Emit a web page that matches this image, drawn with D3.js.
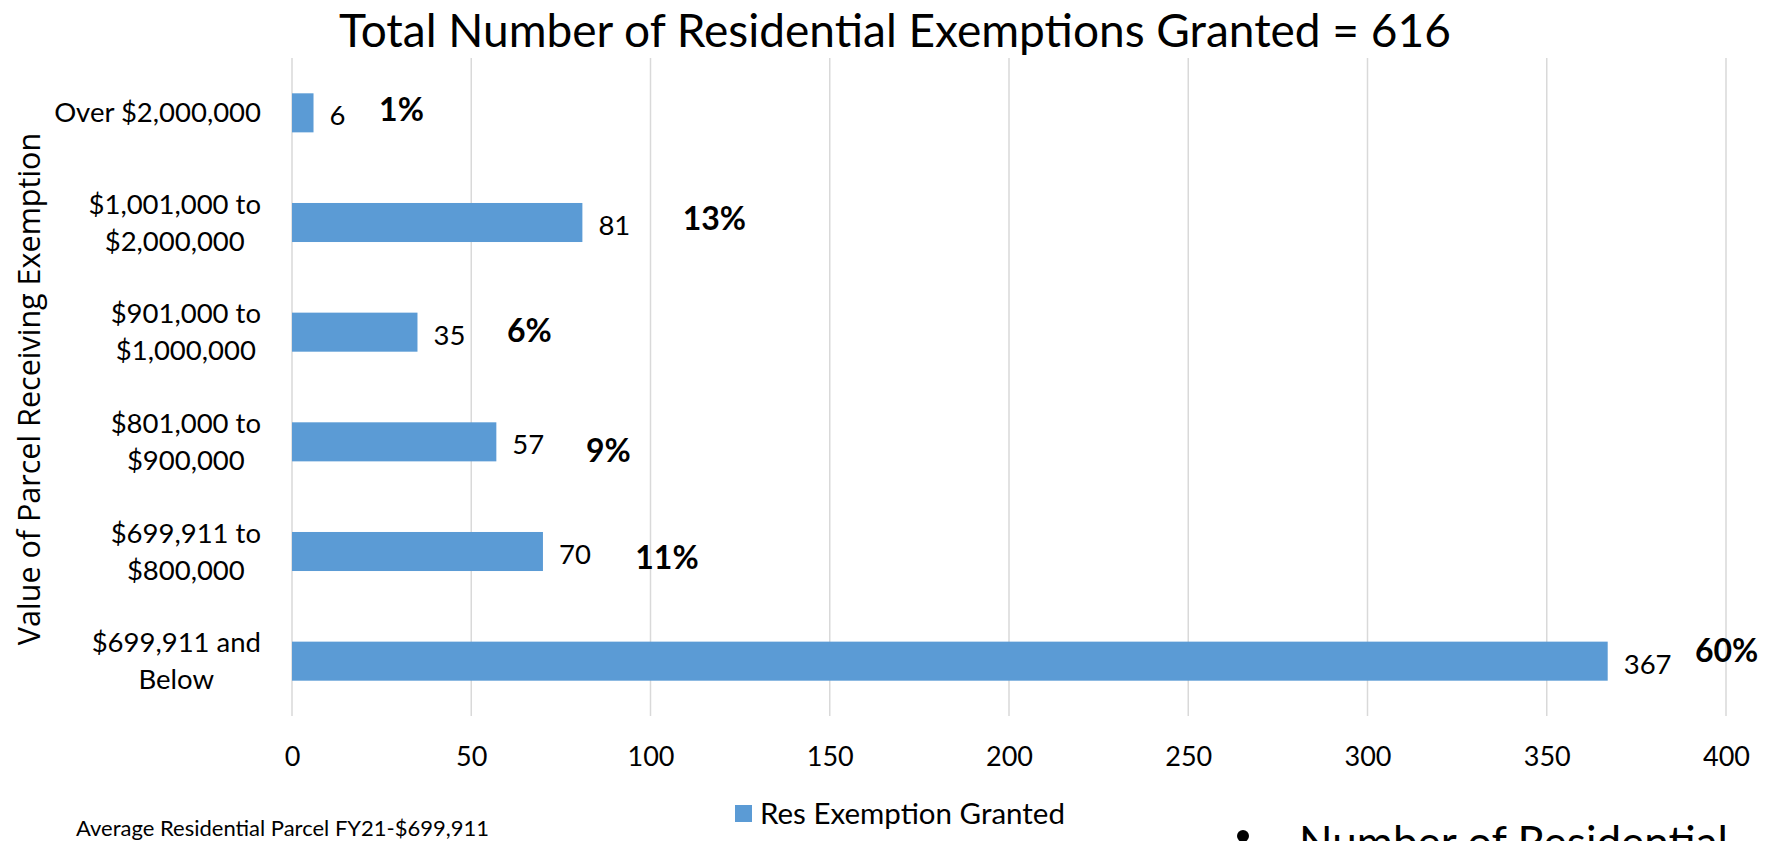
<!DOCTYPE html>
<html>
<head>
<meta charset="utf-8">
<script src="https://cdn.jsdelivr.net/npm/d3@7"></script>
<style>
	body { margin: 0; background: #fff; }
	svg text { font-family: Lato, sans-serif; fill: #000; }
</style>
</head>
<body>
<svg id="chart" width="1775" height="841"></svg>
<script>
// DATA
var categories = [
	['Over $2,000,000'],
	['$1,001,000 to', '$2,000,000'],
	['$901,000 to', '$1,000,000'],
	['$801,000 to', '$900,000'],
	['$699,911 to', '$800,000'],
	['$699,911 and', 'Below']
];
var exemptions = [6, 81, 35, 57, 70, 367];
var xTicks = [0, 50, 100, 150, 200, 250, 300, 350, 400];
var seriesName = 'Res Exemption Granted';
var yTitle = 'Value of Parcel Receiving Exemption';
var footnote = 'Average Residential Parcel FY21-$699,911';
var bulletText = 'Number of Residential';

// percent labels were hand placed in the original, nudge them (px)
var pctNudge = [[-27, -3], [17, -4], [-3, -1], [-3, 9], [9, 6], [4, -10]];

var total = d3.sum(exemptions);
var rows = categories.map(function(c, i) {
	return { key: c.join(' '), lines: c, value: exemptions[i], pct: Math.round(exemptions[i] / total * 100) };
});

// BOUNDS
var plot = { left: 292, right: 1726, top: 58, bottom: 716 };
var barColor = '#5B9BD5';

// SCALE
var xScale = d3.scaleLinear().domain([0, 400]).range([plot.left, plot.right]);
var yScale = d3.scaleBand()
	.domain(rows.map(function(d) { return d.key; }))
	.range([plot.top, plot.bottom])
	.paddingInner(0.644)
	.paddingOuter(0.322);

var svg = d3.select('#chart');

// title
svg.append('text')
	.attr('x', 895)
	.attr('y', 47)
	.attr('text-anchor', 'middle')
	.style('font-size', '46px')
	.text('Total Number of Residential Exemptions Granted = ' + total);

// gridlines
svg.append('g')
	.selectAll('line')
	.data(xTicks)
	.enter().append('line')
	.attr('x1', function(d) { return xScale(d); })
	.attr('x2', function(d) { return xScale(d); })
	.attr('y1', plot.top)
	.attr('y2', plot.bottom)
	.attr('stroke', '#d9d9d9')
	.attr('stroke-width', 1.5);

// x axis (labels only)
var xAxis = d3.axisBottom(xScale).tickValues(xTicks).tickSize(0).tickPadding(0);
var xg = svg.append('g')
	.attr('transform', 'translate(0,' + plot.bottom + ')')
	.call(xAxis);
xg.select('.domain').remove();
xg.selectAll('text')
	.attr('y', 41)
	.attr('dy', '0.35em')
	.style('font-size', '27px')
	.style('font-family', 'Lato, sans-serif')
	.attr('fill', '#000');

// bars
svg.append('g')
	.selectAll('rect')
	.data(rows)
	.enter().append('rect')
	.attr('x', xScale(0))
	.attr('y', function(d) { return yScale(d.key); })
	.attr('width', function(d) { return xScale(d.value) - xScale(0); })
	.attr('height', yScale.bandwidth())
	.attr('fill', barColor);

// value labels
svg.append('g')
	.selectAll('text')
	.data(rows)
	.enter().append('text')
	.attr('x', function(d) { return xScale(d.value) + 16; })
	.attr('y', function(d) { return yScale(d.key) + yScale.bandwidth() / 2 + 3; })
	.attr('dy', '0.35em')
	.style('font-size', '27.5px')
	.text(function(d) { return d.value; });

// percent labels
svg.append('g')
	.selectAll('text')
	.data(rows)
	.enter().append('text')
	.attr('x', function(d, i) { return xScale(d.value) + 115 + pctNudge[i][0]; })
	.attr('y', function(d, i) { return yScale(d.key) + yScale.bandwidth() / 2 + pctNudge[i][1]; })
	.attr('dy', '0.35em')
	.attr('text-anchor', 'middle')
	.style('font-size', '32px')
	.style('font-weight', 'bold')
	.text(function(d) { return d.pct + '%'; });

// category labels: lines centred on each other, block right aligned
var lineGap = 37;
var cats = svg.append('g')
	.selectAll('text')
	.data(rows)
	.enter().append('text')
	.style('font-size', '27.5px')
	.attr('text-anchor', 'middle');
cats.each(function(d) {
	var t = d3.select(this);
	var mid = yScale(d.key) + yScale.bandwidth() / 2;
	var n = d.lines.length;
	d.lines.forEach(function(l, j) {
		t.append('tspan')
			.attr('y', mid + (j - (n - 1) / 2) * lineGap)
			.attr('dy', '0.35em')
			.text(l);
	});
	var w = 0;
	t.selectAll('tspan').each(function() { w = Math.max(w, this.getComputedTextLength()); });
	t.selectAll('tspan').attr('x', 261 - w / 2);
});

// y axis title
svg.append('text')
	.attr('transform', 'translate(40,389) rotate(-90)')
	.attr('text-anchor', 'middle')
	.style('font-family', '"Open Sans", sans-serif')
	.style('font-size', '30.5px')
	.text(yTitle);

// legend
var legend = svg.append('g').attr('transform', 'translate(735,805)');
legend.append('rect')
	.attr('width', 17)
	.attr('height', 17)
	.attr('fill', barColor);
legend.append('text')
	.attr('x', 25)
	.attr('y', 9)
	.attr('dy', '0.35em')
	.style('font-size', '29.5px')
	.text(seriesName);

// footnote
svg.append('text')
	.attr('x', 76)
	.attr('y', 836)
	.style('font-size', '22px')
	.text(footnote);

// bullet point, cut off by the bottom edge as in the original slide
svg.append('circle')
	.attr('cx', 1243)
	.attr('cy', 836)
	.attr('r', 6)
	.attr('fill', '#000');
svg.append('text')
	.attr('x', 1299)
	.attr('y', 858)
	.style('font-size', '44px')
	.text(bulletText);
</script>
</body>
</html>
